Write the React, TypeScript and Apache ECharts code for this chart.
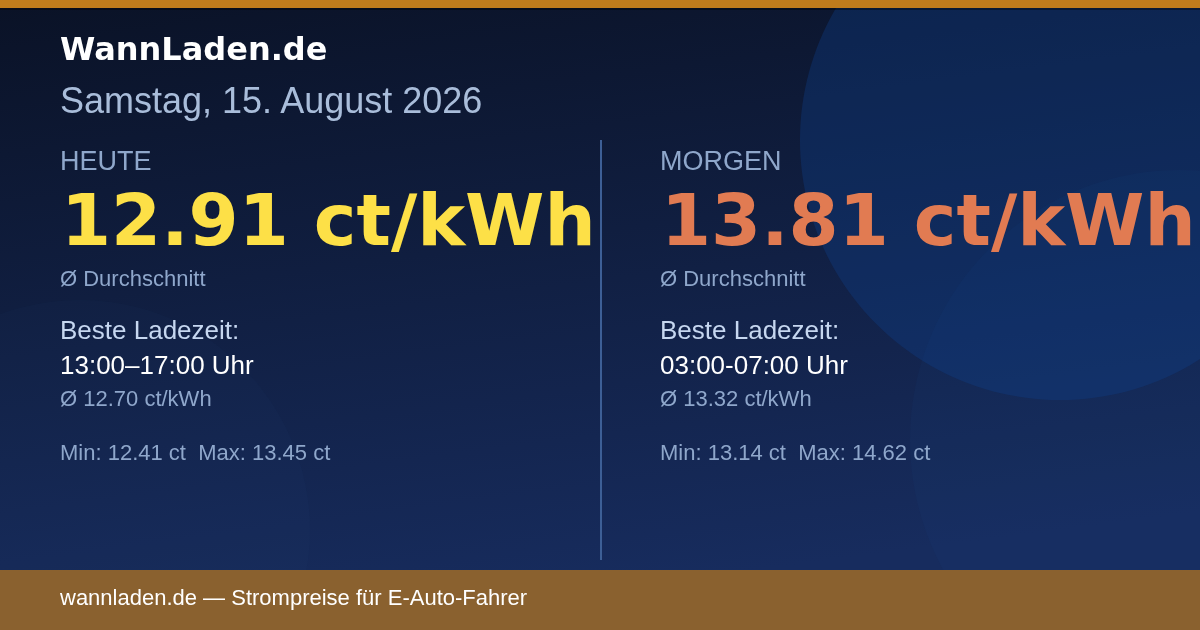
import React, { useEffect, useRef } from 'react'
import * as echarts from 'echarts'

// Tages-Daten
const dayLabels = ['HEUTE', 'MORGEN']
const avgPrices = [12.91, 13.81]
const bestWindows = ['13:00–17:00 Uhr', '03:00-07:00 Uhr']
const bestAvgs = [12.7, 13.32]
const minPrices = [12.41, 13.14]
const maxPrices = [13.45, 14.62]
const priceColors = ['#FDE047', '#E17B52']

const dateText = 'Samstag, 15. August 2026'
const brand = 'WannLaden.de'
const footerText = 'wannladen.de — Strompreise für E-Auto-Fahrer'

const SANS = '"Liberation Sans", Arial, sans-serif'
const BOLD = '"DejaVu Sans", Verdana, sans-serif'

const App = () => {
    const chart: any = useRef()

    useEffect(() => {
        const myChart = echarts.init(chart.current, null, { renderer: 'svg' })

        const txt = (x: number, y: number, text: string, size: number, fill: string, font = SANS, weight: any = 'normal') => ({
            type: 'text',
            x,
            y,
            style: {
                text,
                fill,
                fontFamily: font,
                fontSize: size,
                fontWeight: weight,
                align: 'left',
                verticalAlign: 'middle'
            }
        })

        let columns: any = []
        for (let i = 0; i < dayLabels.length; i++) {
            const x = 60 + i * 600
            columns.push(
                txt(x, 161, dayLabels[i], 27, '#8FA7CB'),
                txt(x + 1, 220, `${avgPrices[i].toFixed(2)} ct/kWh`, 72, priceColors[i], BOLD, 'bold'),
                txt(x, 278, 'Ø Durchschnitt', 22, '#8FA7CB'),
                txt(x, 330, 'Beste Ladezeit:', 26, '#C6D7F0'),
                txt(x, 365, bestWindows[i], 26, '#FFFFFF'),
                txt(x, 398, `Ø ${bestAvgs[i].toFixed(2)} ct/kWh`, 22, '#8FA7CB'),
                txt(x, 452, `Min: ${minPrices[i].toFixed(2)} ct  Max: ${maxPrices[i].toFixed(2)} ct`, 22, '#8FA7CB')
            )
        }

        myChart.setOption({
            animation: false,
            graphic: [
                {
                    type: 'rect',
                    shape: { x: 0, y: 0, width: 1200, height: 630 },
                    style: {
                        fill: new echarts.graphic.LinearGradient(0, 0, 0.25, 1, [
                            { offset: 0, color: '#0A1226' },
                            { offset: 1, color: '#172C5E' }
                        ])
                    }
                },
                {
                    type: 'circle',
                    shape: { cx: 80, cy: 530, r: 230 },
                    style: { fill: 'rgba(60,100,170,0.035)' }
                },
                {
                    type: 'circle',
                    shape: { cx: 1060, cy: 140, r: 260 },
                    style: { fill: 'rgba(16,64,140,0.34)' }
                },
                {
                    type: 'circle',
                    shape: { cx: 1180, cy: 440, r: 270 },
                    style: { fill: 'rgba(30,80,160,0.07)' }
                },
                {
                    type: 'rect',
                    shape: { x: 0, y: 0, width: 1200, height: 8 },
                    style: { fill: '#C07C1C' }
                },
                {
                    type: 'rect',
                    shape: { x: 0, y: 8, width: 1200, height: 2 },
                    style: { fill: 'rgba(0,0,0,0.35)' }
                },
                txt(60, 49, brand, 32, '#FFFFFF', BOLD, 'bold'),
                txt(60, 100, dateText, 36, '#A9BDDA'),
                {
                    type: 'line',
                    shape: { x1: 601, y1: 140, x2: 601, y2: 560 },
                    style: { stroke: '#3D5F96', lineWidth: 2 }
                },
                ...columns,
                {
                    type: 'rect',
                    shape: { x: 0, y: 570, width: 1200, height: 60 },
                    style: { fill: '#8A612F' }
                },
                txt(60, 597, footerText, 22, '#FFFFFF')
            ]
        })
        return () => {
            myChart.dispose()
        }
    }, [])

    return (
        <div ref={chart} style={{ position: 'fixed', left: 0, top: 0, width: 1200, height: 630 }} />
    )
}

export default App
